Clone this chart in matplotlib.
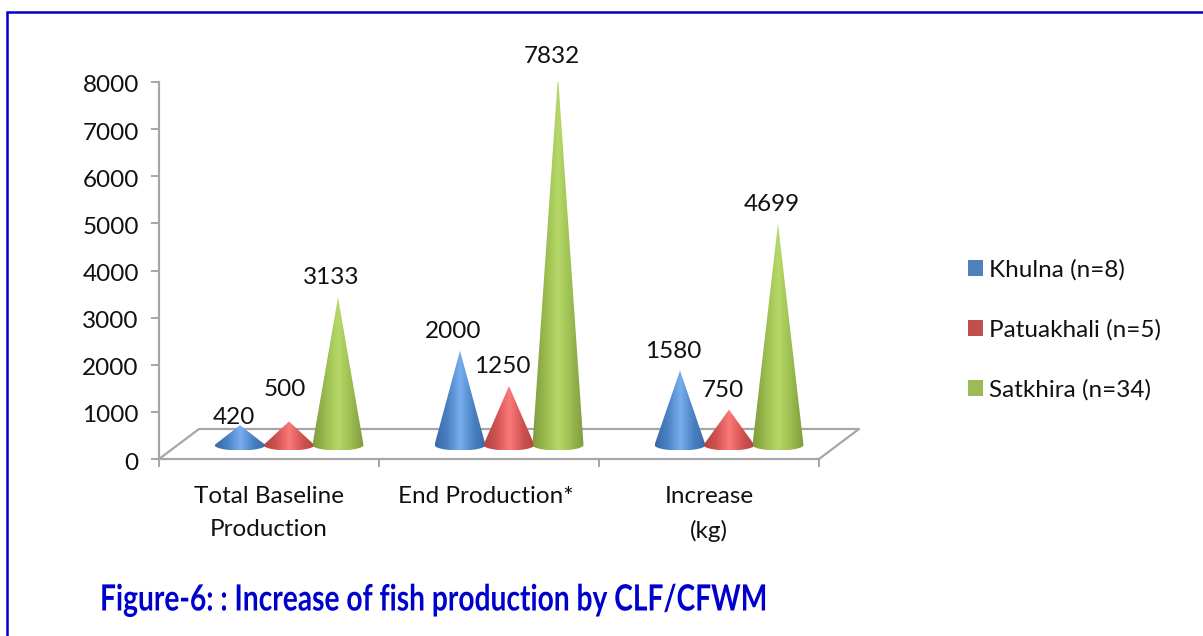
import numpy as np
import matplotlib
matplotlib.use("Agg")
from matplotlib import pyplot as plt
from matplotlib.colors import LinearSegmentedColormap
from matplotlib.patches import Polygon, Rectangle
from matplotlib.patheffects import AbstractPathEffect
from matplotlib.transforms import Affine2D, ScaledTranslation

categories = ["Total Baseline\nProduction", "End Production* ", "Increase\n(kg)"]
series_names = ["Khulna (n=8)", "Patuakhali (n=5)", "Satkhira (n=34)"]
khulna = [420, 2000, 1580]
patuakhali = [500, 1250, 750]
satkhira = [3133, 7832, 4699]
y_ticks = [0, 1000, 2000, 3000, 4000, 5000, 6000, 7000, 8000]
title = "Figure-6: : Increase of fish production by CLF/CFWM"

series_values = [khulna, patuakhali, satkhira]
legend_colors = ["#4f81bd", "#c0504d", "#9bbb59"]
# edge, mid, highlight for the cone shading
shades = [
    ["#3a6aa8", "#4a82c4", "#78aeee"],
    ["#b04442", "#d25453", "#fb7a7a"],
    ["#7f9c3c", "#9cbd50", "#b6d968"],
]

W, H = 1203, 636
FONT = 17.5
plt.rcParams["font.family"] = ["Lato", "DejaVu Sans"]


class Squeeze(AbstractPathEffect):
    # narrows text horizontally around a fixed pixel x
    def __init__(self, x0, sx):
        super().__init__()
        self.x0 = x0
        self.sx = sx

    def draw_path(self, renderer, gc, tpath, affine, rgbFace=None):
        squeeze = Affine2D().translate(-self.x0, 0).scale(self.sx, 1).translate(self.x0, 0)
        renderer.draw_path(gc, tpath, affine + squeeze, rgbFace)


fig = plt.figure(figsize=(W / 100, H / 100), dpi=100)

# blue frame around the whole figure
fig.add_artist(Rectangle((7 / W, -0.02), 1.1, 1 - 12 / H + 0.02, transform=fig.transFigure,
                         fill=False, edgecolor="#0000cc", linewidth=1.8))

# axes box: x 159..819, y 82..459 in pixels
ax = fig.add_axes([159 / W, 1 - 459 / H, 660 / W, 377 / H])
ax.patch.set_visible(False)

px_x = 3.0 / 660      # data units per pixel, x
px_y = 8000.0 / 377   # data units per pixel, y

for s in ["top", "right"]:
    ax.spines[s].set_visible(False)
for s in ["left", "bottom"]:
    ax.spines[s].set_color("#a6a6a6")
    ax.spines[s].set_linewidth(1.6)

ax.set_xticks([-0.5, 0.5, 1.5, 2.5])
ax.set_xticklabels([])
ax.set_yticks(y_ticks)
ax.tick_params(axis="both", color="#a6a6a6", width=1.4, length=5.5, labelsize=FONT,
               labelcolor="#111111")
ax.tick_params(axis="y", pad=9)
for lab in ax.get_yticklabels():
    lab.set_transform(lab.get_transform() + ScaledTranslation(0, -2 / 100, fig.dpi_scale_trans))

# floor of the 3D box
floor_dx = 40 * px_x
floor_dy = 30 * px_y
ax.plot([-0.5, -0.5 + floor_dx, 2.5 + floor_dx, 2.5], [0, floor_dy, floor_dy, 0],
        color="#a6a6a6", linewidth=1.6, clip_on=False, zorder=1)

for i, label in enumerate(categories):
    ax.text(i, -27 * px_y, label, ha="center", va="top", fontsize=FONT,
            color="#111111", linespacing=1.7)

cmaps = [LinearSegmentedColormap.from_list("c", [c[0], c[1], c[2], c[1], c[0]]) for c in shades]

base = 14 * px_y            # cones stand on the middle of the floor
half_w = 25.5 * px_x
ell_h = 5.5 * px_y
spacing = 49 * px_x
centre_shift = 20 * px_x

# labels sit up and to the left of each tip, pixels; two short cones differ
label_nudge = {420: (-6, 8), 500: (-4, 32)}

for n, values in enumerate(series_values):
    for i, v in enumerate(values):
        cx = i + centre_shift + (n - 1) * spacing
        top = base + v
        t = np.linspace(np.pi, 2 * np.pi, 40)
        xs = cx + half_w * np.cos(t)
        ys = base + ell_h * np.sin(t)
        clip = Polygon(list(zip(xs, ys)) + [(cx, top)], closed=True, transform=ax.transData,
                       facecolor="none", edgecolor="none")
        ax.add_patch(clip)
        grad = np.linspace(0, 1, 64).reshape(1, -1)
        im = ax.imshow(grad, cmap=cmaps[n], aspect="auto", interpolation="bilinear",
                       extent=(cx - half_w, cx + half_w, base - ell_h, top),
                       zorder=3 + n * 0.1)
        im.set_clip_path(clip)
        nx, ny = label_nudge.get(v, (-6.5, 19.5))
        ax.annotate(str(v), (cx, top), xytext=(nx * 0.72, ny * 0.72), textcoords="offset points",
                    ha="center", va="center", fontsize=FONT, color="#111111",
                    annotation_clip=False, zorder=6)

# imshow resets the limits, so set them last
ax.set_xlim(-0.5, 2.5)
ax.set_ylim(0, 8000)

handles = [Rectangle((0, 0), 1, 1, facecolor=c, edgecolor="none") for c in legend_colors]
fig.legend(handles, series_names, loc="center left", bbox_to_anchor=(946 / W, 1 - 330 / H),
           frameon=False, fontsize=FONT, handlelength=0.62, handleheight=0.62,
           handletextpad=0.25, labelspacing=1.58, labelcolor="#111111")

fig.text(100 / W, 1 - 600 / H, title, color="#0000cc", fontsize=26, fontweight="bold",
         ha="left", va="center", path_effects=[Squeeze(100, 0.78)])

fig.savefig("out.png", dpi=100)
